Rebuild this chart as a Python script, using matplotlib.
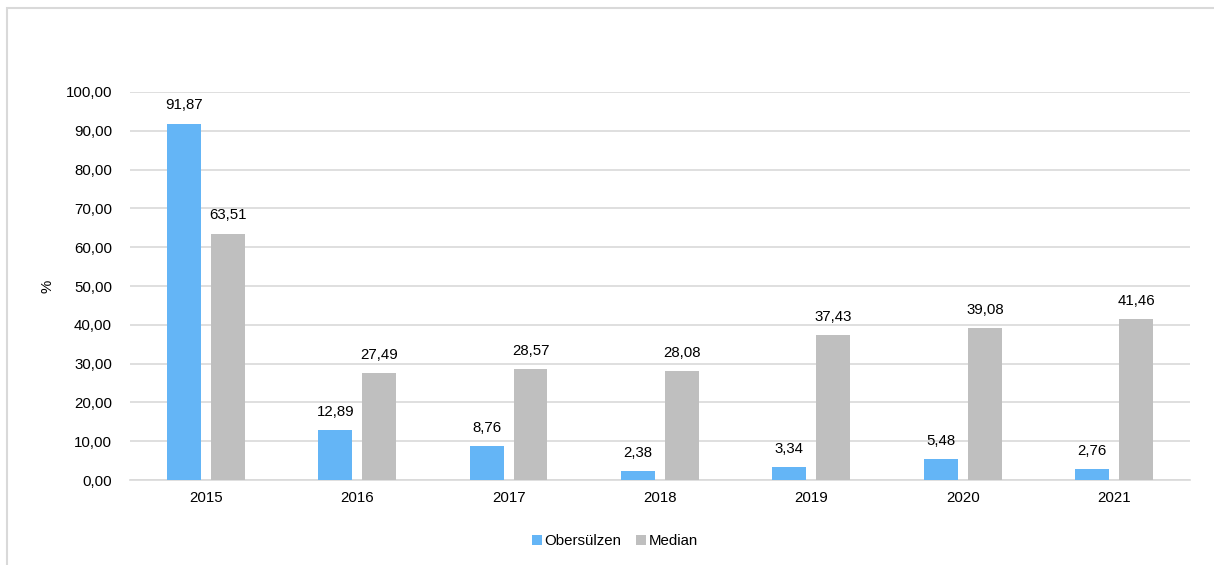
import numpy as np
import matplotlib.pyplot as plt
from matplotlib.patches import Rectangle

plt.rcParams['font.family'] = ['Liberation Sans', 'DejaVu Sans']

years = ['2015', '2016', '2017', '2018', '2019', '2020', '2021']
obersuelzen = [91.87, 12.89, 8.76, 2.38, 3.34, 5.48, 2.76]
median = [63.51, 27.49, 28.57, 28.08, 37.43, 39.08, 41.46]
y_ticks = np.arange(0, 101, 10)

BLUE = '#64b5f6'
GREY = '#bfbfbf'
FS = 10.8


def fmt(v):
    return f'{v:.2f}'.replace('.', ',')


fig = plt.figure(figsize=(12.14, 5.65), dpi=100)
ax = fig.add_axes([0.1071, 0.1504, 0.8731, 0.6868])

# outer chart frame (cut off at right and bottom)
fig.patches.append(Rectangle((7 / 1214, -0.1), 1.2, 1 - 8 / 565 + 0.1,
                             transform=fig.transFigure, fill=False,
                             edgecolor='#d9d9d9', linewidth=1.5))

x = np.arange(len(years))
w = 0.224
off = 0.145
b1 = ax.bar(x - off, obersuelzen, w, color=BLUE, label='Obersülzen', zorder=3)
b2 = ax.bar(x + off, median, w, color=GREY, label='Median', zorder=3)

for bars, vals in ((b1, obersuelzen), (b2, median)):
    for r, v in zip(bars, vals):
        ax.annotate(fmt(v), (r.get_x() + r.get_width() / 2, v),
                    xytext=(0, 8), textcoords='offset points',
                    ha='center', va='bottom', fontsize=FS, color='#000000')

ax.set_xlim(-0.5, len(years) - 0.5)
ax.set_ylim(0, 100)
ax.set_yticks(y_ticks)
ax.set_yticklabels([fmt(t) for t in y_ticks], fontsize=FS)
ax.set_xticks(x)
ax.set_xticklabels(years, fontsize=FS)
ax.tick_params(length=0, pad=8)
ax.tick_params(axis='y', pad=13)
ax.grid(axis='y', color='#d9d9d9', linewidth=1.2, zorder=0)
for s in ('top', 'right', 'left'):
    ax.spines[s].set_visible(False)
ax.spines['bottom'].set_color('#d9d9d9')
ax.spines['bottom'].set_linewidth(1.2)

ax.set_ylabel('%', fontsize=FS, labelpad=8)

ax.legend(loc='center', bbox_to_anchor=(615 / 1214, 1 - 541 / 565),
          bbox_transform=fig.transFigure, ncol=2, frameon=False,
          fontsize=FS, handlelength=0.65, handleheight=0.65,
          handletextpad=0.15, columnspacing=1.0)

fig.savefig('out.png', dpi=100)
